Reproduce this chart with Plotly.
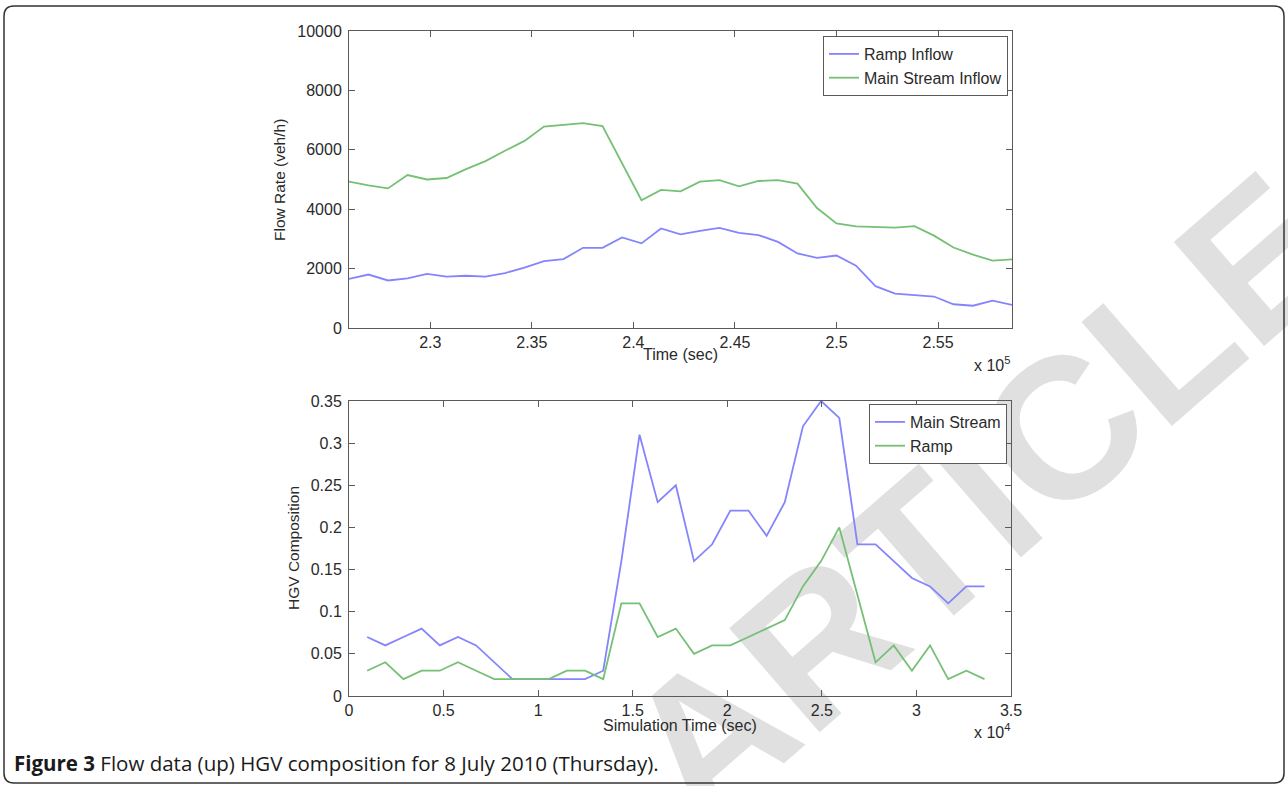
import plotly.graph_objects as go

# ---------------- data ----------------
flow_time = [226000, 226960, 227920, 228880, 229840, 230800, 231760, 232720, 233680,
             234640, 235600, 236560, 237520, 238480, 239440, 240400, 241360, 242320,
             243280, 244240, 245200, 246160, 247120, 248080, 249040, 250000, 250960,
             251920, 252880, 253840, 254800, 255760, 256720, 257680, 258640]
ramp_inflow = [1650, 1800, 1600, 1670, 1820, 1730, 1760, 1730, 1850, 2030, 2250, 2320,
               2700, 2700, 3050, 2850, 3350, 3150, 3270, 3370, 3200, 3130, 2900, 2510,
               2360, 2440, 2100, 1410, 1160, 1100, 1060, 800, 750, 920, 780]
main_inflow = [4930, 4800, 4700, 5150, 5000, 5050, 5350, 5620, 5970, 6300, 6780, 6850,
               6900, 6800, 5550, 4300, 4650, 4600, 4930, 4980, 4770, 4950, 4980, 4860,
               4040, 3520, 3420, 3400, 3380, 3430, 3110, 2710, 2470, 2270, 2310]

sim_time = [960, 1920, 2880, 3840, 4800, 5760, 6720, 7680, 8640, 9600, 10560, 11520,
            12480, 13440, 14400, 15360, 16320, 17280, 18240, 19200, 20160, 21120, 22080,
            23040, 24000, 24960, 25920, 26880, 27840, 28800, 29760, 30720, 31680, 32640,
            33600]
main_hgv = [0.07, 0.06, 0.07, 0.08, 0.06, 0.07, 0.06, 0.04, 0.02, 0.02, 0.02, 0.02,
            0.02, 0.03, 0.16, 0.31, 0.23, 0.25, 0.16, 0.18, 0.22, 0.22, 0.19, 0.23,
            0.32, 0.35, 0.33, 0.18, 0.18, 0.16, 0.14, 0.13, 0.11, 0.13, 0.13]
ramp_hgv = [0.03, 0.04, 0.02, 0.03, 0.03, 0.04, 0.03, 0.02, 0.02, 0.02, 0.02, 0.03,
            0.03, 0.02, 0.11, 0.11, 0.07, 0.08, 0.05, 0.06, 0.06, 0.07, 0.08, 0.09,
            0.13, 0.16, 0.20, 0.12, 0.04, 0.06, 0.03, 0.06, 0.02, 0.03, 0.02]

flow_xticks = [230000, 235000, 240000, 245000, 250000, 255000]
flow_xlabels = ["2.3", "2.35", "2.4", "2.45", "2.5", "2.55"]
flow_yticks = [0, 2000, 4000, 6000, 8000, 10000]
flow_ylabels = ["0", "2000", "4000", "6000", "8000", "10000"]
sim_xticks = [0, 5000, 10000, 15000, 20000, 25000, 30000, 35000]
sim_xlabels = ["0", "0.5", "1", "1.5", "2", "2.5", "3", "3.5"]
hgv_yticks = [0, 0.05, 0.1, 0.15, 0.2, 0.25, 0.3, 0.35]
hgv_ylabels = ["0", "0.05", "0.1", "0.15", "0.2", "0.25", "0.3", "0.35"]

# ---------------- layout helpers ----------------
W, H = 1288, 786
def px(x):
    return x / W
def py(y):
    return 1 - y / H

BLUE = "#8484ff"
GREEN = "#76c076"
AX = "#5a5a5a"
TXT = "#2a2a2a"
FONT = "Liberation Sans, Arial, sans-serif"

fig = go.Figure()
fig.add_trace(go.Scatter(x=flow_time, y=ramp_inflow, name="Ramp Inflow", mode="lines",
                         line=dict(color=BLUE, width=1.8), xaxis="x", yaxis="y", legend="legend"))
fig.add_trace(go.Scatter(x=flow_time, y=main_inflow, name="Main Stream Inflow", mode="lines",
                         line=dict(color=GREEN, width=1.8), xaxis="x", yaxis="y", legend="legend"))
fig.add_trace(go.Scatter(x=sim_time, y=main_hgv, name="Main Stream", mode="lines",
                         line=dict(color=BLUE, width=1.8), xaxis="x2", yaxis="y2", legend="legend2"))
fig.add_trace(go.Scatter(x=sim_time, y=ramp_hgv, name="Ramp", mode="lines",
                         line=dict(color=GREEN, width=1.8), xaxis="x2", yaxis="y2", legend="legend2"))

axis_common = dict(showline=True, linecolor=AX, linewidth=1, mirror="ticks", ticks="inside",
                   ticklen=6, tickcolor=AX, tickwidth=1, showgrid=False, zeroline=False,
                   tickfont=dict(family=FONT, size=16, color=TXT), automargin=False,
                   fixedrange=True)

legend_common = dict(xanchor="right", yanchor="top", bgcolor="white", bordercolor=AX,
                     borderwidth=1, font=dict(family=FONT, size=16, color=TXT),
                     tracegroupgap=0)

fig.update_layout(
    width=W, height=H, margin=dict(l=0, r=0, t=0, b=0),
    paper_bgcolor="white", plot_bgcolor="rgba(0,0,0,0)",
    template="none", showlegend=True,
    xaxis=dict(axis_common, domain=[px(349), px(1012)], anchor="y",
               range=[flow_time[0], flow_time[-1]], tickmode="array",
               tickvals=flow_xticks, ticktext=flow_xlabels),
    yaxis=dict(axis_common, domain=[py(328), py(31)], anchor="x", range=[0, 10000],
               tickmode="array", tickvals=flow_yticks, ticktext=flow_ylabels,
               ticklabelstandoff=3),
    xaxis2=dict(axis_common, domain=[px(349), px(1011)], anchor="y2", range=[0, 35000],
                tickmode="array", tickvals=sim_xticks, ticktext=sim_xlabels),
    yaxis2=dict(axis_common, domain=[py(696), py(401)], anchor="x2", range=[0, 0.35],
                tickmode="array", tickvals=hgv_yticks, ticktext=hgv_ylabels,
                ticklabelstandoff=3),
    legend=dict(legend_common, x=px(1008), y=py(36)),
    legend2=dict(legend_common, x=px(1007), y=py(404)),
)

def ann(text, x, y, size=16, angle=0, xanchor="center", color=TXT, family=FONT):
    fig.add_annotation(text=text, x=px(x), y=py(y), xref="paper", yref="paper",
                       xanchor=xanchor, yanchor="middle", showarrow=False, textangle=angle,
                       font=dict(family=family, size=size, color=color))

ann("Flow Rate (veh/h)", 280, 180, size=15.5, angle=-90)
ann("Time (sec)", 680, 355)
ann("x 10<sup>5</sup>", 972, 364, xanchor="left")
ann("HGV Composition", 293, 548, size=15.5, angle=-90)
ann("Simulation Time (sec)", 680, 725)
ann("x 10<sup>4</sup>", 972, 731, xanchor="left")
ann("<b>Figure 3</b> Flow data (up) HGV composition for 8 July 2010 (Thursday).",
    12, 763, size=20.5, xanchor="left", color="#1a1a1a", family="Open Sans, sans-serif")

# rounded outer frame
x0, y0, x1, y1, r = 4, 6, 1284, 783, 10
path = (f"M {px(x0 + r)},{py(y0)} L {px(x1 - r)},{py(y0)} Q {px(x1)},{py(y0)} {px(x1)},{py(y0 + r)} "
        f"L {px(x1)},{py(y1 - r)} Q {px(x1)},{py(y1)} {px(x1 - r)},{py(y1)} "
        f"L {px(x0 + r)},{py(y1)} Q {px(x0)},{py(y1)} {px(x0)},{py(y1 - r)} "
        f"L {px(x0)},{py(y0 + r)} Q {px(x0)},{py(y0)} {px(x0 + r)},{py(y0)} Z")
fig.add_shape(type="path", path=path, xref="paper", yref="paper",
              line=dict(color="#333333", width=1.5), fillcolor="rgba(0,0,0,0)", layer="above")

# watermark
cx, cy = 486, 905
fig.add_shape(type="rect", xref="paper", yref="paper",
              x0=px(cx - 1), x1=px(cx + 1), y0=py(cy + 1), y1=py(cy - 1),
              line=dict(width=0), fillcolor="rgba(0,0,0,0)", layer="below",
              label=dict(text="RETRACTED ARTICLE", textangle=-41, textposition="middle center",
                         font=dict(family="Liberation Sans", size=200, color="#e0e0e0",
                                   weight="bold")))

fig.write_html("out.html")
